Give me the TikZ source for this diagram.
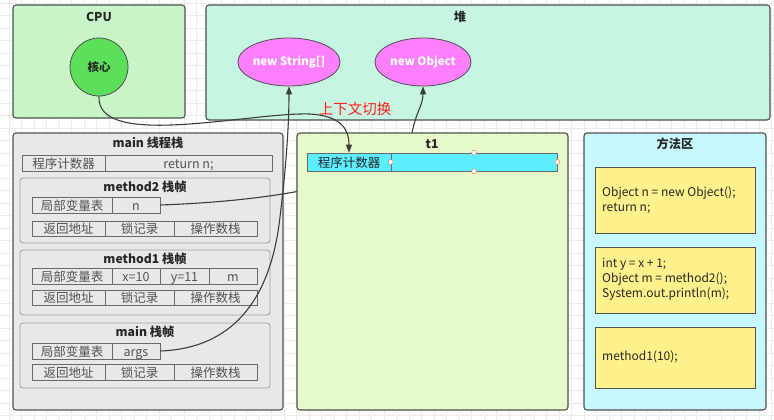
\documentclass[tikz,border=0pt]{standalone}
\usepackage{fontspec}
\setmainfont{Noto Sans CJK SC}
\usetikzlibrary{arrows.meta,shapes.geometric}
\definecolor{gridc}{RGB}{236,236,236}
\definecolor{edgec}{RGB}{80,80,80}
\definecolor{cpufill}{RGB}{200,245,200}
\definecolor{corefill}{RGB}{92,224,92}
\definecolor{heapfill}{RGB}{198,245,226}
\definecolor{objfill}{RGB}{255,128,255}
\definecolor{stackfill}{RGB}{232,232,232}
\definecolor{t1fill}{RGB}{230,249,200}
\definecolor{barfill}{RGB}{90,238,255}
\definecolor{mafill}{RGB}{200,248,255}
\definecolor{yfill}{RGB}{255,242,140}
\definecolor{txt}{RGB}{40,40,40}
\definecolor{redc}{RGB}{255,30,30}
\definecolor{handlec}{RGB}{220,130,100}
\tikzset{
  region/.style={draw=edgec, line width=1.1pt, rounded corners=3pt, inner sep=0pt},
  frame/.style={draw=gray!75, line width=0.8pt, fill=stackfill, rounded corners=3pt, inner sep=0pt, minimum width=250pt},
  cell/.style={draw=edgec!85, line width=0.7pt, fill=stackfill, inner sep=0pt, minimum height=16pt, text=txt!80, font=\fontsize{12.5}{14}\selectfont, text height=11pt, text depth=0.6pt},
  ttl/.style={font=\fontsize{12.2}{14}\selectfont\bfseries, text=txt, inner sep=0pt},
  obj/.style={ellipse, draw=edgec, line width=0.8pt, fill=objfill, minimum width=96pt, minimum height=48pt, text=white, font=\fontsize{11.5}{13}\selectfont\bfseries, inner sep=0pt},
  ybox/.style={draw=edgec, line width=0.8pt, fill=yfill, inner sep=0pt, minimum width=160pt},
  code/.style={anchor=west, align=left, font=\fontsize{12}{15}\selectfont, text=txt, inner sep=0pt},
  conn/.style={draw=txt!90, line width=1.1pt},
  tip/.style={-{Triangle[length=8pt,width=6pt]}},
  handle/.style={circle, draw=handlec, fill=white, line width=0.5pt, minimum size=5pt, inner sep=0pt},
}
\begin{document}
\begin{tikzpicture}[x=1pt,y=-1pt]
\useasboundingbox (0,0) rectangle (774,420);
\fill[white] (0,0) rectangle (774,420);
\foreach \i in {0,...,62} \draw[gridc, line width=0.5pt] (\i*12.5+9,0) -- (\i*12.5+9,420);
\foreach \j in {0,...,33} \draw[gridc, line width=0.5pt] (0,\j*12.5+3) -- (774,\j*12.5+3);

% CPU
\node[region, fill=cpufill, minimum width=172pt, minimum height=113pt] (cpu) at (99,61.5) {};
\node[ttl] (cputitle) at (99,17) {CPU};
\node[circle, draw=edgec, line width=0.8pt, fill=corefill, minimum size=58pt, inner sep=0pt, font=\fontsize{11.5}{13}\selectfont\bfseries, text=txt] (core) at (99,67) {核心};

% Heap
\node[region, fill=heapfill, minimum width=564pt, minimum height=115pt] (heap) at (488,62.5) {};
\node[ttl] (heaptitle) at (460,17) {堆};
\node[obj] (str) at (289,62) {new String[]};
\node[obj] (obj) at (423,62) {new Object};

% main thread stack
\node[region, fill=stackfill, minimum width=270pt, minimum height=277pt] (stack) at (148,271.5) {};
\node[ttl] (stacktitle) at (148,143) {main 线程栈};
\node[cell, minimum width=83pt] (pcA) at (63.5,163) {程序计数器};
\node[cell, minimum width=167pt] (pcB) at (188.5,163) {return n;};

% method2 frame
\node[frame, minimum height=65pt] (m2) at (145,210.5) {};
\node[ttl] (m2t) at (145,187) {method2 栈帧};
\node[cell, minimum width=80pt] (m2lv) at (72,205) {局部变量表};
\node[cell, minimum width=48pt] (m2n) at (136,205) {n};
\node[cell, minimum width=73pt, minimum height=15pt] (m2ra) at (68.5,228.5) {返回地址};
\node[cell, minimum width=69pt, minimum height=15pt] (m2lk) at (139.5,228.5) {锁记录};
\node[cell, minimum width=83pt, minimum height=15pt] (m2op) at (215.5,228.5) {操作数栈};

% method1 frame
\node[frame, minimum height=65pt] (m1) at (145,282.5) {};
\node[ttl] (m1t) at (145,259) {method1 栈帧};
\node[cell, minimum width=80pt] (m1lv) at (72,276) {局部变量表};
\node[cell, minimum width=48pt] (m1x) at (136,276) {x=10};
\node[cell, minimum width=49pt] (m1y) at (184.5,276) {y=11};
\node[cell, minimum width=48pt] (m1m) at (233,276) {m};
\node[cell, minimum width=73pt, minimum height=15pt] (m1ra) at (68.5,297.5) {返回地址};
\node[cell, minimum width=69pt, minimum height=15pt] (m1lk) at (139.5,297.5) {锁记录};
\node[cell, minimum width=83pt, minimum height=15pt] (m1op) at (215.5,297.5) {操作数栈};

% main frame
\node[frame, minimum height=65pt] (mf) at (145,355.5) {};
\node[ttl] (mft) at (145,332) {main 栈帧};
\node[cell, minimum width=80pt] (mflv) at (72,351) {局部变量表};
\node[cell, minimum width=48pt] (mfargs) at (136,351) {args};
\node[cell, minimum width=73pt] (mfra) at (68.5,372) {返回地址};
\node[cell, minimum width=69pt] (mflk) at (139.5,372) {锁记录};
\node[cell, minimum width=83pt] (mfop) at (215.5,372) {操作数栈};

% connector n -> new Object (passes behind t1)
\draw[conn, tip] (m2n.east) .. controls (300,200) and (405,175) .. (412,133) .. controls (416,112) and (423,105) .. (obj.south);

% t1
\node[region, fill=t1fill, minimum width=271pt, minimum height=277pt] (t1) at (432.5,271.5) {};
\node[ttl] (t1title) at (432,144) {t1};
\node[cell, fill=barfill, minimum width=84pt, minimum height=18pt, text=txt] (tpcA) at (349,162) {程序计数器};
\node[cell, fill=barfill, minimum width=166pt, minimum height=18pt] (tpcB) at (474,162) {};
\node[handle] (h1) at (tpcB.west) {};
\node[handle] (h2) at (tpcB.east) {};
\node[handle] (h3) at (tpcB.north) {};
\node[handle] (h4) at (tpcB.south) {};

% method area
\node[region, fill=mafill, minimum width=182pt, minimum height=277pt] (ma) at (675,271.5) {};
\node[ttl] (matitle) at (675,144) {方法区};
\node[ybox, minimum height=66pt] (y1) at (675,200) {};
\node[code] (c1) at (602,200) {Object n = new Object();\\return n;};
\node[ybox, minimum height=66pt] (y2) at (675,280) {};
\node[code] (c2) at (602,279) {int y = x + 1;\\Object m = method2();\\System.out.println(m);};
\node[ybox, minimum height=61pt] (y3) at (675,357.5) {};
\node[code] (c3) at (602,357) {method1(10);};

% connectors
\draw[conn, tip] (core.south) .. controls (96,150) and (250,112) .. (310,114) .. controls (340,116) and (349,128) .. (tpcA.north);
\draw[conn, tip] (mfargs.east) .. controls (240,348) and (270,290) .. (279,225) .. controls (286,170) and (289,125) .. (str.south);
\node[text=redc, font=\fontsize{14.5}{16}\selectfont, inner sep=0pt] (ctx) at (355,109) {上下文切换};
\end{tikzpicture}
\end{document}
